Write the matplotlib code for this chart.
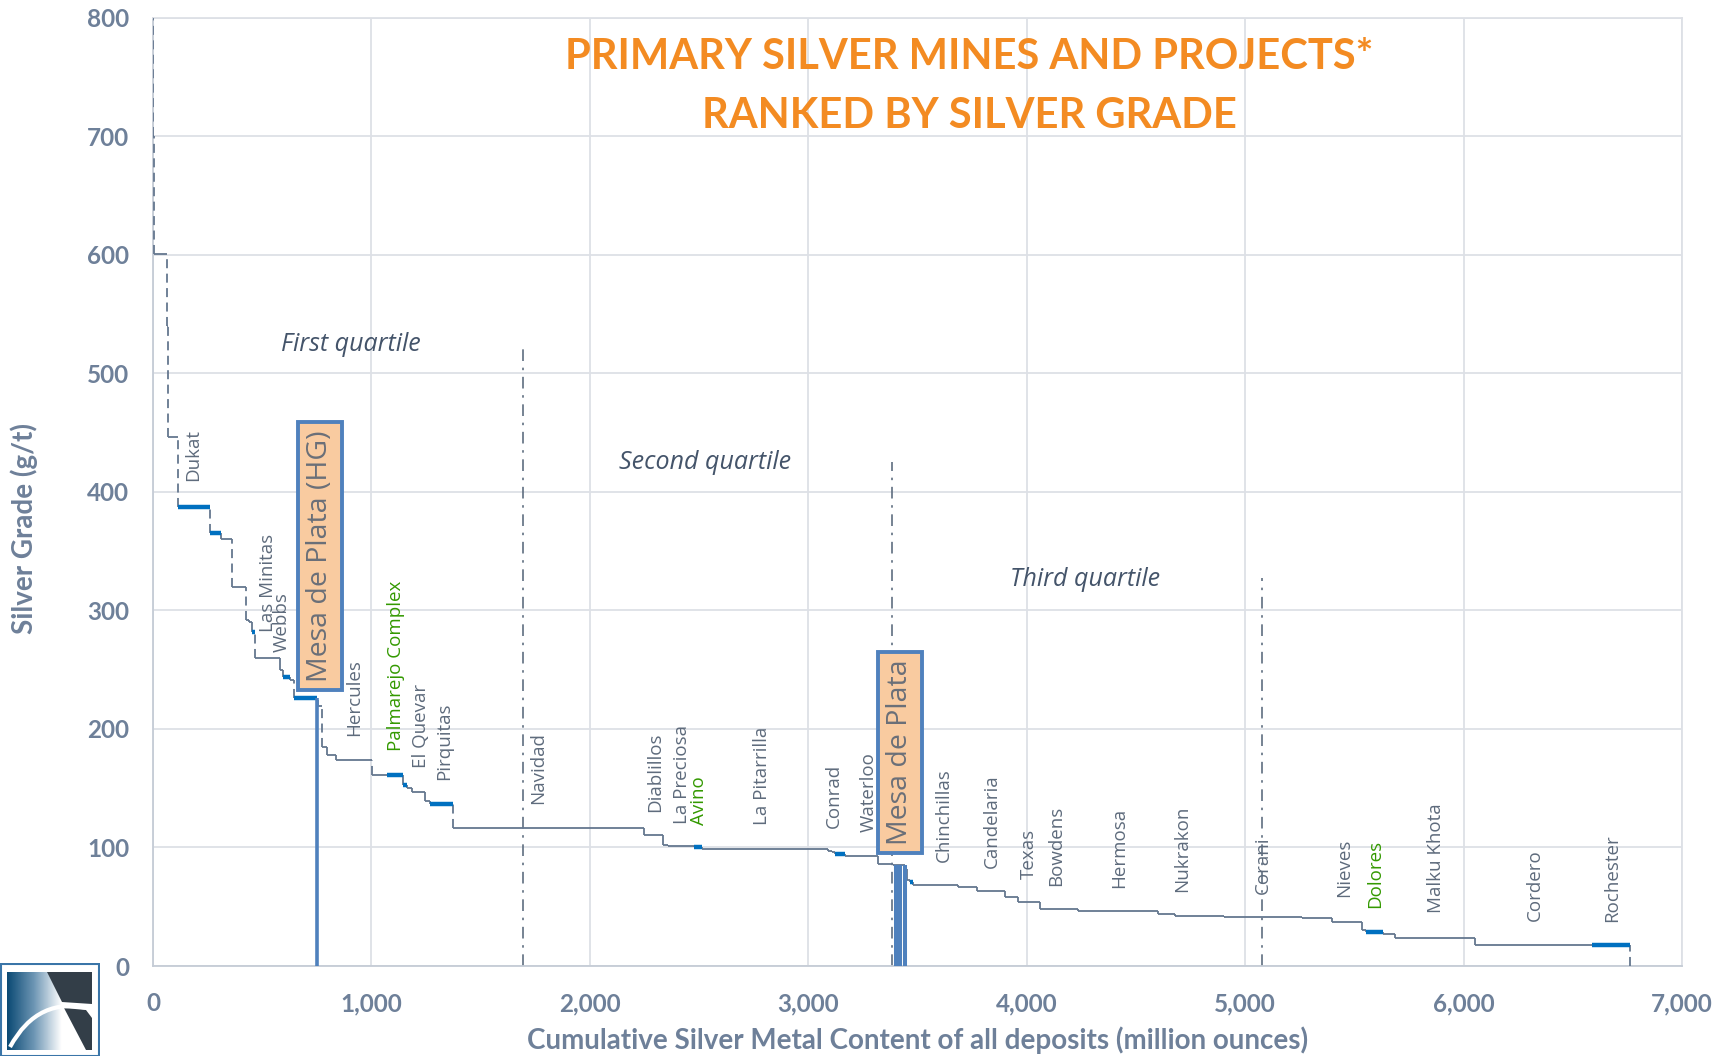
import numpy as np
import matplotlib
matplotlib.use("Agg")
import matplotlib.pyplot as plt
from matplotlib.patches import Rectangle, Polygon, PathPatch
from matplotlib.path import Path

# ---------------- data ----------------
# cumulative silver content at the end of each deposit (million oz) and its grade (g/t)
deposit_end = [1, 3, 65, 67, 113, 261, 310, 360, 424, 440, 452, 467, 581, 594, 627, 647, 749,
               756, 772, 795, 836, 1001, 1071, 1146, 1163, 1184, 1245, 1268, 1375, 2138, 2248,
               2334, 2360, 2479, 2513, 3092, 3110, 3123, 3166, 3321, 3388, 3443, 3451, 3466,
               3481, 3687, 3771, 3901, 3962, 4061, 4237, 4603, 4680, 4901, 5259, 5396, 5534,
               5554, 5631, 5687, 6053, 6587, 6764]
deposit_grade = [900, 700, 601, 540, 446, 387, 365, 360, 320, 292, 290, 282, 260, 250, 244, 241, 226,
                 224, 219, 185, 178, 174, 161, 161, 153, 150, 147, 139, 137, 116.5, 116,
                 110.5, 102, 101, 100, 98.5, 97, 96, 94.5, 93, 86, 85, 82, 72.5,
                 71, 68.4, 67, 63.3, 58.5, 54.3, 47.8, 46.7, 44, 42.2, 41, 40.2, 37.4,
                 30, 28.4, 27, 24, 17.7, 17.7]
highlight = [0, 0, 0, 0, 0, 1, 1, 0, 0, 0, 0, 1, 0, 0, 1, 0, 1,
             0, 0, 0, 0, 0, 0, 1, 1, 0, 0, 0, 1, 0, 0,
             0, 0, 0, 1, 0, 0, 0, 1, 0, 0, 0, 0, 0,
             1, 0, 0, 0, 0, 0, 0, 0, 0, 0, 0, 0, 0,
             0, 1, 0, 0, 0, 1]

# Mesa de Plata bars
mesa_hg_x = [749]
mesa_hg_grade = [226]
mesa_x = [3400, 3421, 3442]
mesa_grade = [85, 85, 85]

# quartile boundaries
quartile_x = [1692, 3385, 5076]
quartile_top = [525, 425, 327]
quartile_names = ["First quartile", "Second quartile", "Third quartile"]
quartile_label_x = [907, 2527, 4267]
quartile_label_y = [524, 425, 326]

# deposit labels
mine_names = ["Dukat", "Las Minitas", "Webbs", "Hercules", "Palmarejo Complex", "El Quevar",
              "Pirquitas", "Navidad", "Diablillos", "La Preciosa", "Avino", "La Pitarrilla",
              "Conrad", "Waterloo", "Chinchillas", "Candelaria", "Texas", "Bowdens", "Hermosa",
              "Nukrakon", "Corani", "Nieves", "Dolores", "Malku Khota", "Cordero", "Rochester"]
mine_x = [183, 528, 589, 920, 1113, 1226, 1332, 1765, 2301, 2420, 2500, 2790, 3115, 3275,
          3619, 3839, 4008, 4134, 4423, 4710, 5079, 5455, 5595, 5873, 6325, 6682]
mine_y = [409, 282, 265, 194, 181, 167, 157, 137, 130, 120, 119, 119, 116, 113,
          88, 83, 73, 67.5, 66, 62, 61, 58, 48.6, 44.4, 38, 37.4]
mine_green = ["Palmarejo Complex", "Avino", "Dolores"]

x_ticks = [0, 1000, 2000, 3000, 4000, 5000, 6000, 7000]
y_ticks = [0, 100, 200, 300, 400, 500, 600, 700, 800]

title_lines = ["PRIMARY SILVER MINES AND PROJECTS*", "RANKED BY SILVER GRADE"]
x_label = "Cumulative Silver Metal Content of all deposits (million ounces)"
y_label = "Silver Grade (g/t)"

# ---------------- style ----------------
LINE = "#65778F"
HIGH = "#0070C0"
BAR = "#4F81BD"
TICK = "#6E8099"
LABEL = "#5E6B7C"
GREEN = "#339900"
ORANGE = "#F38B22"
GRID = "#DDE0E6"

fig = plt.figure(figsize=(17.27, 10.56), dpi=100)
ax = fig.add_axes([153 / 1727, 90 / 1056, 1529 / 1727, 948.4 / 1056])
ax.set_xlim(0, 7000)
ax.set_ylim(0, 800)

ax.set_xticks(x_ticks)
ax.set_yticks(y_ticks)
ax.set_xticklabels([f"{v:,}" for v in x_ticks])
ax.set_yticklabels([str(v) for v in y_ticks])
ax.tick_params(length=0, labelsize=17.5, labelcolor=TICK)
ax.tick_params(axis="x", pad=19)
ax.tick_params(axis="y", pad=17)
for lab in ax.get_xticklabels() + ax.get_yticklabels():
    lab.set_fontfamily("Lato")
    lab.set_fontweight("bold")
ax.grid(True, color=GRID, lw=1.3, zorder=0)
for s in ax.spines.values():
    s.set_color(GRID)
    s.set_linewidth(1.3)
ax.spines["left"].set_color("#C5CCD6")
ax.spines["bottom"].set_color("#C5CCD6")

ax.set_xlabel(x_label, fontsize=20, fontweight="bold", color=TICK, family="Lato")
ax.set_ylabel(y_label, fontsize=20, fontweight="bold", color=TICK, family="Lato")
ax.xaxis.set_label_coords(0.5, -0.064)
ax.yaxis.set_label_coords(-0.0752, 0.461)

# ---------------- step curve ----------------
starts = [0] + deposit_end[:-1]
for i, (x0, x1, g) in enumerate(zip(starts, deposit_end, deposit_grade)):
    if highlight[i]:
        ax.hlines(g, x0, x1, color=HIGH, lw=3.2, zorder=4)
    else:
        ax.hlines(g, x0, x1, color=LINE, lw=1.3, zorder=3)
# verticals between deposits
next_grade = deposit_grade[1:] + [0]
for x1, g, gn in zip(deposit_end, deposit_grade, next_grade):
    drop = g - gn
    style = (0, (5, 3)) if drop > 12 else "-"
    ax.vlines(x1, gn, g, color=LINE, lw=1.3, linestyles=[style], zorder=3)
# leading vertical at zero
ax.vlines(0, deposit_grade[0], 800, color=LINE, lw=1.3, linestyles=[(0, (5, 3))], zorder=3)

# Mesa de Plata bars
ax.vlines(mesa_hg_x, 0, mesa_hg_grade, color=BAR, lw=2.6, zorder=5)
ax.vlines(mesa_x, 0, mesa_grade, color=BAR, lw=2.9, zorder=5)

# quartile lines
for qx, qt in zip(quartile_x, quartile_top):
    ax.vlines(qx, 0, qt, color="#5F6E80", lw=1.2, linestyles=[(0, (7, 4, 1.5, 4))], zorder=2)
for name, lx, ly in zip(quartile_names, quartile_label_x, quartile_label_y):
    ax.text(lx, ly, name, fontsize=18, style="italic", color="#44546A", family="Open Sans",
            ha="center", va="center", zorder=6)

# mine labels
for name, mx, my in zip(mine_names, mine_x, mine_y):
    ax.text(mx, my, name, rotation=90, ha="center", va="bottom", fontsize=13.5,
            family="Open Sans", color=GREEN if name in mine_green else LABEL, zorder=6)

# Mesa de Plata callout boxes
box_kw = dict(boxstyle="square,pad=0.28", fc="#F9CBA0", ec=BAR, lw=2.8)
ax.text(764, 346, "Mesa de Plata (HG)", rotation=90, ha="center", va="center", fontsize=20.5,
        family="Open Sans", color="#6A6F78", bbox=box_kw, zorder=7)
ax.text(3420, 180, "Mesa de Plata", rotation=90, ha="center", va="center", fontsize=20.5,
        family="Open Sans", color="#6A6F78", bbox=box_kw, zorder=7)

# title
ax.text(3736, 767, title_lines[0], ha="center", va="center", fontsize=30, fontweight="bold",
        family="Lato", color=ORANGE, zorder=6)
ax.text(3736, 717, title_lines[1], ha="center", va="center", fontsize=30, fontweight="bold",
        family="Lato", color=ORANGE, zorder=6)

# ---------------- logo ----------------
lax = fig.add_axes([0, 0, 100 / 1727, 93 / 1056])
lax.set_xlim(0, 100)
lax.set_ylim(1056, 963)
lax.axis("off")
grad = np.linspace(0, 1, 64)[None, :]
cmap = matplotlib.colors.LinearSegmentedColormap.from_list("lg", ["#0B4A74", "#6F97B5", "#FFFFFF"])
lax.imshow(grad, cmap=cmap, extent=(7, 62, 1050, 972), aspect="auto", zorder=1)
lax.add_patch(Polygon([(47, 972), (92, 972), (92, 1004), (62, 1002)], closed=True, fc="#333E48", ec="none", zorder=2))
lax.add_patch(Polygon([(64, 1008), (86, 1010), (92, 1018), (92, 1050), (86, 1050)], closed=True, fc="#333E48", ec="none", zorder=2))
arc = Path([(10, 1047), (38, 995), (92, 1009)], [Path.MOVETO, Path.CURVE3, Path.CURVE3])
lax.add_patch(PathPatch(arc, fc="none", ec="white", lw=3, zorder=3))
lax.add_patch(Rectangle((1, 964), 98, 92, fc="none", ec="#3A75A8", lw=1.5, zorder=4))

fig.savefig("out.png", dpi=100)
